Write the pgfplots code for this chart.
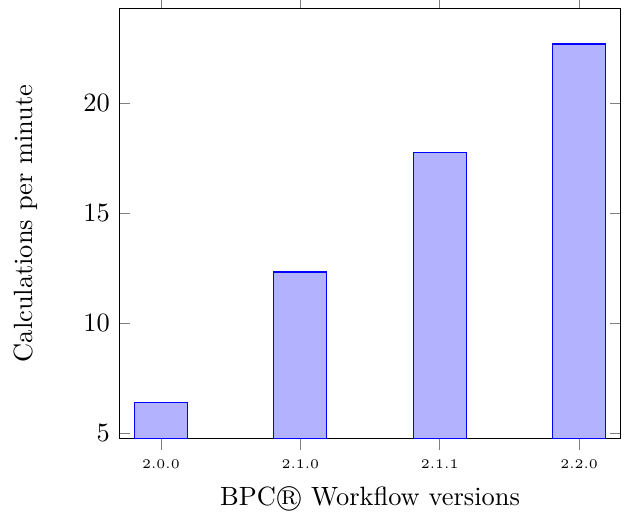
\documentclass[border=0pt]{standalone}
\usepackage{pgfplots}
\pgfplotsset{compat=1.18}
\begin{document}
\begin{tikzpicture}
\begin{axis}[
  scale only axis,
  width=190pt, height=163pt,
  ybar, bar width=20pt,
  xmin=-0.3, xmax=3.3,
  ymin=4.74, ymax=24.32,
  xtick=data,
  xticklabels={2.0.0,2.1.0,2.1.1,2.2.0},
  xticklabel style={font=\tiny},
  xtick align=outside,
  ytick={5,10,15,20},
  xlabel={BPC\textcircled{\scshape r} Workflow versions},
  ylabel={Calculations per minute},
  ylabel shift=10.5pt,
]
\addplot[draw=blue, fill=blue!30] coordinates {(0,6.38) (1,12.32) (2,17.77) (3,22.69)};
\end{axis}
\pgfresetboundingbox
\useasboundingbox ([shift={(-45.1pt,-28pt)}]current axis.south west) rectangle ([shift={(7.6pt,3.1pt)}]current axis.north east);
\end{tikzpicture}
\end{document}
